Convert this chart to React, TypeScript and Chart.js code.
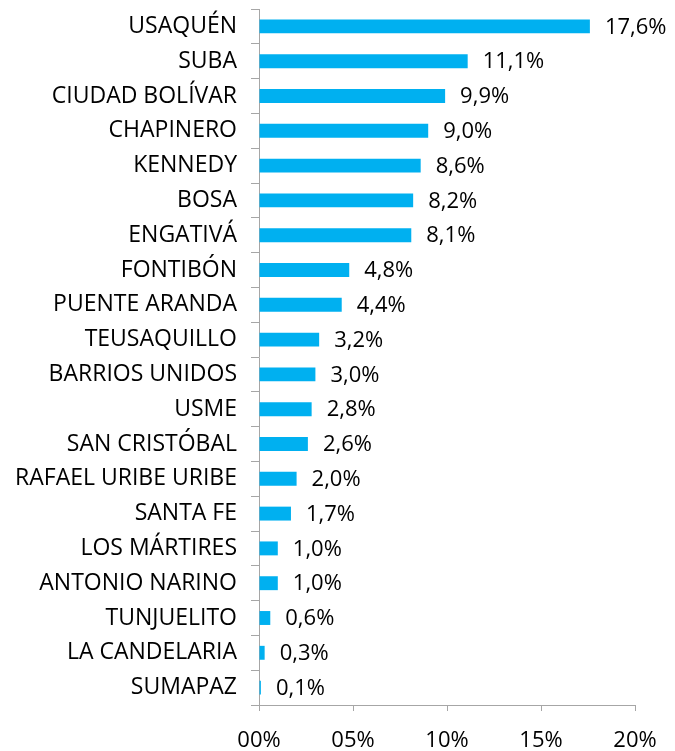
import React, { useEffect, useRef } from "react";
import { Chart, registerables } from "chart.js";

Chart.register(...registerables);

const categories = [
  "USAQUÉN", "SUBA", "CIUDAD BOLÍVAR", "CHAPINERO", "KENNEDY", "BOSA", "ENGATIVÁ",
  "FONTIBÓN", "PUENTE ARANDA", "TEUSAQUILLO", "BARRIOS UNIDOS", "USME", "SAN CRISTÓBAL",
  "RAFAEL URIBE URIBE", "SANTA FE", "LOS MÁRTIRES", "ANTONIO NARINO", "TUNJUELITO",
  "LA CANDELARIA", "SUMAPAZ",
];
const values = [17.6, 11.1, 9.9, 9.0, 8.6, 8.2, 8.1, 4.8, 4.4, 3.2, 3.0, 2.8, 2.6, 2.0, 1.7, 1.0, 1.0, 0.6, 0.3, 0.1];
const xTicks = [0, 5, 10, 15, 20];

const FONT = "'Open Sans', Lato, sans-serif";
const FSIZE = 22;
const YSIZE = 23;

const labelPlugin = {
  id: "barLabels",
  afterDatasetsDraw(chart: any) {
    const ctx = chart.ctx;
    const meta = chart.getDatasetMeta(0);
    ctx.save();
    ctx.font = `${FSIZE}px ${FONT}`;
    ctx.fillStyle = "#000";
    ctx.textAlign = "left";
    ctx.textBaseline = "middle";
    meta.data.forEach((bar: any, i: number) => {
      const txt = values[i].toFixed(1).replace(".", ",") + "%";
      ctx.fillText(txt, bar.x + 15, bar.y + 1);
    });
    ctx.restore();
  },
};

export default function App() {
  const ref = useRef<HTMLCanvasElement>(null);
  useEffect(() => {
    document.body.style.margin = "0";
    const chart = new Chart(ref.current!, {
      type: "bar",
      data: {
        labels: categories,
        datasets: [
          {
            data: values,
            backgroundColor: "#00b0f0",
            barPercentage: 0.4,
            categoryPercentage: 1,
          },
        ],
      },
      options: {
        indexAxis: "y",
        animation: false,
        responsive: false,
        layout: { padding: { top: 9, right: 40, left: 0, bottom: 0 } },
        plugins: { legend: { display: false }, tooltip: { enabled: false } },
        scales: {
          x: {
            min: 0,
            max: 20,
            afterBuildTicks: (s: any) => {
              s.ticks = xTicks.map((v) => ({ value: v }));
            },
            afterFit: (s: any) => {
              s.height = 46;
              s.paddingLeft = 0;
              s.paddingRight = 0;
            },
            grid: {
              drawOnChartArea: false,
              drawTicks: true,
              tickLength: 6,
              color: "#a6a6a6",
              lineWidth: 1,
            },
            border: { display: true, color: "#a6a6a6", width: 1 },
            ticks: {
              color: "#000",
              font: { family: FONT, size: FSIZE },
              padding: 17,
              maxRotation: 0,
              callback: (v: any) => String(v).padStart(2, "0") + "%",
            },
          },
          y: {
            afterFit: (s: any) => {
              s.width = 259;
              s.paddingTop = 0;
              s.paddingBottom = 0;
            },
            grid: {
              offset: true,
              drawOnChartArea: false,
              drawTicks: true,
              tickLength: 8,
              color: "#a6a6a6",
              lineWidth: 1,
            },
            border: { display: true, color: "#a6a6a6", width: 1 },
            ticks: {
              color: "#000",
              font: { family: FONT, size: YSIZE },
              padding: 14,
              autoSkip: false,
            },
          },
        },
      },
      plugins: [labelPlugin],
    });
    return () => chart.destroy();
  }, []);
  return (
    <div style={{ width: 675, height: 751 }}>
      <canvas ref={ref} width={675} height={751} style={{ display: "block" }} />
    </div>
  );
}
